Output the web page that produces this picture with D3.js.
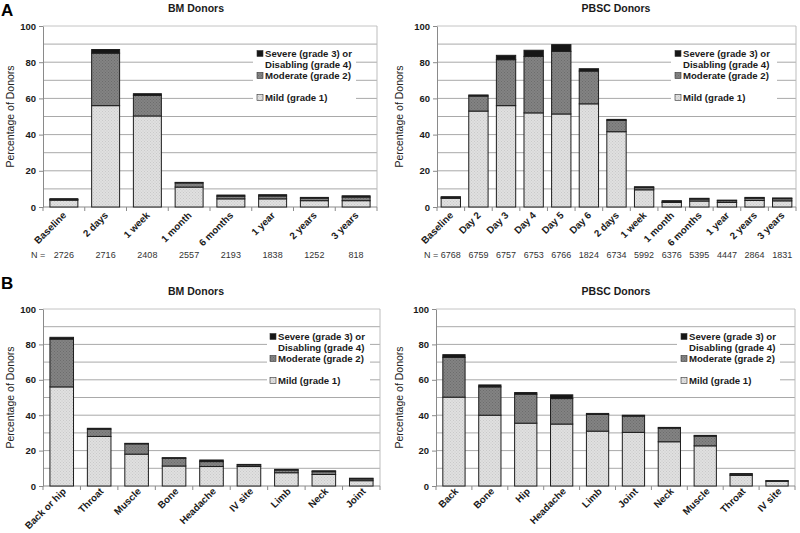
<!DOCTYPE html>
<html><head><meta charset="utf-8">
<script src="https://cdn.jsdelivr.net/npm/d3@7"></script>
<style>
body{margin:0;background:#fff;}
svg{display:block;font-family:"Liberation Sans",Arial,sans-serif;}
</style></head>
<body><svg id="c" width="800" height="533" font-family="Liberation Sans, Arial, sans-serif"></svg>
<script>
// ---------- DATA ----------
const legendLabels = [["Severe (grade 3) or","Disabling (grade 4)"],["Moderate (grade 2)"],["Mild (grade 1)"]];
const yTicks = [0,20,40,60,80,100];
const gridValues = [10,20,30,40,50,60,70,80,90,100];

const aBmCategories = ["Baseline","2 days","1 week","1 month","6 months","1 year","2 years","3 years"];
const aBmMild     = [3.8, 56.0, 50.3, 11.0, 4.5, 4.5, 3.5, 3.5];
const aBmModerate = [0.3, 29.0, 11.4, 2.3, 1.5, 1.6, 1.4, 2.0];
const aBmSevere   = [0.5, 2.0, 0.9, 0.3, 0.6, 0.7, 0.4, 0.7];
const aBmN        = ["2726","2716","2408","2557","2193","1838","1252","818"];

const aPbscCategories = ["Baseline","Day 2","Day 3","Day 4","Day 5","Day 6","2 days","1 week","1 month","6 months","1 year","2 years","3 years"];
const aPbscMild     = [4.8, 53.0, 56.0, 52.0, 51.4, 57.0, 41.6, 9.5, 2.5, 3.3, 2.5, 3.6, 3.4];
const aPbscModerate = [0.3, 8.3, 25.4, 31.2, 34.6, 18.1, 6.3, 1.2, 0.3, 1.1, 1.0, 1.3, 1.2];
const aPbscSevere   = [0.6, 0.6, 2.4, 3.4, 3.7, 1.3, 0.5, 0.5, 0.7, 0.4, 0.3, 0.4, 0.4];
const aPbscN        = ["6768","6759","6757","6753","6766","1824","6734","5992","6376","5395","4447","2864","1831"];

const bBmCategories = ["Back or hip","Throat","Muscle","Bone","Headache","IV site","Limb","Neck","Joint"];
const bBmMild     = [56.0, 28.0, 18.0, 11.3, 11.0, 11.0, 7.5, 6.5, 3.0];
const bBmModerate = [27.0, 4.1, 5.8, 4.4, 2.8, 0.9, 1.5, 1.6, 1.0];
const bBmSevere   = [1.0, 0.5, 0.3, 0.3, 0.9, 0.3, 0.4, 0.5, 0.4];

const bPbscCategories = ["Back","Bone","Hip","Headache","Limb","Joint","Neck","Muscle","Throat","IV site"];
const bPbscMild     = [50.2, 40.0, 35.5, 35.0, 31.0, 30.3, 25.0, 22.7, 6.0, 2.7];
const bPbscModerate = [22.5, 16.0, 16.4, 14.4, 9.4, 9.2, 7.7, 5.5, 0.7, 0.2];
const bPbscSevere   = [1.5, 1.1, 0.9, 2.1, 0.6, 0.5, 0.4, 0.4, 0.3, 0.1];

// ---------- DRAW ----------
const svg = d3.select("#c");
const defs = svg.append("defs");
function makePattern(id, base, dot){
  const p = defs.append("pattern").attr("id", id).attr("patternUnits","userSpaceOnUse")
    .attr("width",3).attr("height",3);
  p.append("rect").attr("width",3).attr("height",3).attr("fill",base);
  p.append("rect").attr("x",0).attr("y",0).attr("width",1).attr("height",1).attr("fill",dot);
  p.append("rect").attr("x",1.5).attr("y",1.5).attr("width",1).attr("height",1).attr("fill",dot);
}
makePattern("pMild","#e0e0e0","#c9c9c9");
makePattern("pMod","#838383","#6c6c6c");
const fills = {mild:"url(#pMild)", mod:"url(#pMod)", sev:"#161616"};

function panel(cfg){
  const g = svg.append("g");
  const x = d3.scaleBand().domain(cfg.cats).range([cfg.x0, cfg.x1])
    .paddingInner(cfg.pad).paddingOuter(cfg.pad/2);
  const y = d3.scaleLinear().domain([0,100]).range([cfg.zero, cfg.top]);

  // gridlines
  g.append("g").selectAll("line").data(gridValues).join("line")
    .attr("x1", cfg.x0).attr("x2", cfg.x1)
    .attr("y1", d=>y(d)).attr("y2", d=>y(d))
    .attr("stroke", d=> d===100 ? "#c4c4c4" : "#a9a9a9").attr("stroke-width",1);
  // right border
  g.append("line").attr("x1",cfg.x1).attr("x2",cfg.x1).attr("y1",y(100)).attr("y2",y(0))
    .attr("stroke","#bdbdbd");

  // legend background
  const lg = g.append("g");
  lg.append("rect").attr("x", cfg.lx0).attr("y", cfg.top + 19)
    .attr("width", cfg.lx1 - cfg.lx0).attr("height", 57).attr("fill","#fff");

  // y axis
  const ya = g.append("g").attr("transform",`translate(${cfg.x0},0)`)
    .call(d3.axisLeft(y).tickValues(yTicks).tickSize(4).tickPadding(3).tickSizeOuter(0));
  ya.attr("font-family", null);
  ya.select(".domain").attr("stroke","#8a8a8a");
  ya.selectAll(".tick line").attr("stroke","#8a8a8a");
  ya.selectAll("text").attr("font-size",9.5).attr("font-weight","bold").attr("fill","#1a1a1a");

  // x axis line + boundary ticks
  g.append("line").attr("x1",cfg.x0).attr("x2",cfg.x1).attr("y1",y(0)).attr("y2",y(0))
    .attr("stroke","#8a8a8a");
  const bounds = d3.range(cfg.cats.length+1).map(i => cfg.x0 + i*x.step());
  g.append("g").selectAll("line").data(bounds).join("line")
    .attr("x1",d=>d).attr("x2",d=>d).attr("y1",y(0)).attr("y2",y(0)+4)
    .attr("stroke","#8a8a8a");

  // bars
  const rows = cfg.cats.map((c,i)=>({c, m:cfg.mild[i], md:cfg.mod[i], s:cfg.sev[i]}));
  const bg = g.append("g");
  rows.forEach(r=>{
    const segs = [
      {y0:0, y1:r.m, f:fills.mild},
      {y0:r.m, y1:r.m+r.md, f:fills.mod},
      {y0:r.m+r.md, y1:r.m+r.md+r.s, f:fills.sev}
    ];
    segs.forEach(s=>{
      bg.append("rect").attr("x", x(r.c)).attr("width", x.bandwidth())
        .attr("y", y(s.y1)).attr("height", Math.max(0, y(s.y0)-y(s.y1)))
        .attr("fill", s.f).attr("stroke","#1e1e1e").attr("stroke-width",1);
    });
  });

  // x labels
  g.append("g").selectAll("text").data(cfg.cats).join("text")
    .attr("transform", d=>`translate(${x(d)+x.bandwidth()/2+cfg.lbx},${y(0)+cfg.lby}) rotate(-45)`)
    .attr("text-anchor","end").attr("font-size",9.8).attr("font-weight","bold").attr("fill","#1a1a1a")
    .text(d=>d);

  // N row
  if (cfg.n){
    g.append("text").attr("x", cfg.nx).attr("y", cfg.ny).attr("font-size",9).attr("fill","#333").text("N =");
    g.append("g").selectAll("text").data(cfg.cats).join("text")
      .attr("x", d=>x(d)+x.bandwidth()/2).attr("y", cfg.ny).attr("text-anchor","middle")
      .attr("font-size",9).attr("fill","#333").text((d,i)=>cfg.n[i]);
  }

  // title
  g.append("text").attr("x", cfg.tx).attr("y", cfg.ty).attr("text-anchor","middle")
    .attr("font-size",10.5).attr("font-weight","bold").attr("fill","#1a1a1a").text(cfg.title);

  // y label
  g.append("text").attr("transform",`translate(${cfg.ylx},${(y(0)+y(100))/2}) rotate(-90)`)
    .attr("text-anchor","middle").attr("font-size",10.5).attr("fill","#222").text("Percentage of Donors");

  // legend
  const items = [
    {f:fills.sev, lines:legendLabels[0], dy:[27.5,38.5]},
    {f:fills.mod, lines:legendLabels[1], dy:[49.5]},
    {f:fills.mild, lines:legendLabels[2], dy:[71.5]}
  ];
  items.forEach(it=>{
    lg.append("rect").attr("x", cfg.lsq).attr("y", cfg.top + it.dy[0] - 3).attr("width",6).attr("height",6)
      .attr("fill", it.f).attr("stroke","#333").attr("stroke-width",0.6);
    it.lines.forEach((t,k)=>{
      lg.append("text").attr("x", cfg.lsq + 8).attr("y", cfg.top + it.dy[k] + 3.5)
        .attr("font-size",9.6).attr("font-weight","bold").attr("fill","#1a1a1a").text(t);
    });
  });
}

panel({cats:aBmCategories, mild:aBmMild, mod:aBmModerate, sev:aBmSevere, n:aBmN,
  x0:43, x1:377, top:26, zero:207, pad:0.33, title:"BM Donors", tx:196, ty:12, ylx:14,
  lx0:253, lx1:356, lsq:257, nx:31, ny:258, lbx:3, lby:9});
panel({cats:aPbscCategories, mild:aPbscMild, mod:aPbscModerate, sev:aPbscSevere, n:aPbscN,
  x0:437, x1:796, top:26, zero:207, pad:0.3, title:"PBSC Donors", tx:616, ty:12, ylx:403,
  lx0:671, lx1:777, lsq:675, nx:424, ny:258, lbx:3, lby:9});
panel({cats:bBmCategories, mild:bBmMild, mod:bBmModerate, sev:bBmSevere,
  x0:43, x1:380, top:309, zero:486, pad:0.37, title:"BM Donors", tx:196, ty:295, ylx:14,
  lx0:267, lx1:370, lsq:270, lbx:5, lby:6});
panel({cats:bPbscCategories, mild:bPbscMild, mod:bPbscModerate, sev:bPbscSevere,
  x0:436, x1:795, top:309, zero:486, pad:0.38, title:"PBSC Donors", tx:616, ty:295, ylx:403,
  lx0:677, lx1:780, lsq:681, lbx:5, lby:6});

svg.append("text").attr("x",1).attr("y",16).attr("font-size",17).attr("font-weight","bold").text("A");
svg.append("text").attr("x",1).attr("y",289).attr("font-size",17).attr("font-weight","bold").text("B");
</script></body></html>
